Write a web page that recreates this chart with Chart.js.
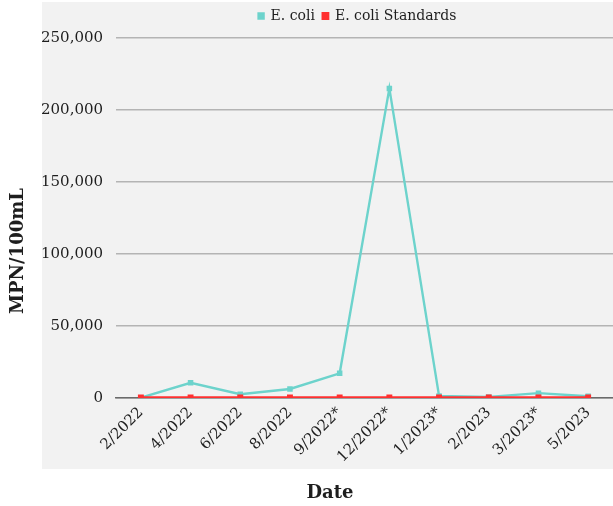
<!DOCTYPE html>
<html>
<head>
<meta charset="utf-8">
<script src="https://cdn.jsdelivr.net/npm/chart.js@4/dist/chart.umd.min.js"></script>
<style>
  html, body { margin: 0; padding: 0; background: #ffffff; }
  #wrap { width: 613px; height: 506px; position: relative; }
</style>
</head>
<body>
<div id="wrap"><canvas id="chart" width="613" height="506"></canvas></div>
<script>
// Sampling dates (asterisk marks flagged sampling events)
const sampleDates = ['2/2022', '4/2022', '6/2022', '8/2022', '9/2022*', '12/2022*', '1/2023*', '2/2023', '3/2023*', '5/2023'];
// E. coli results, MPN/100mL
const ecoliValues = [150, 10500, 2600, 6200, 17100, 215000, 1400, 700, 3300, 1200];
// Single-sample E. coli standard, MPN/100mL
const ecoliStandard = [235, 235, 235, 235, 235, 235, 235, 235, 235, 235];
// Value-axis ticks
const yTickValues = [0, 50000, 100000, 150000, 200000, 250000];
// Axis titles
const xAxisTitle = 'Date';
const yAxisTitle = 'MPN/100mL';

const FONT = "'DejaVu Serif', 'Liberation Serif', serif";
const TEXT = '#1e1e1e';

// Light grey panel behind the plot, legend and date labels
const panelBackground = {
  id: 'panelBackground',
  beforeDraw(chart) {
    const ctx = chart.ctx;
    ctx.save();
    ctx.fillStyle = '#f2f2f2';
    ctx.fillRect(42, 2, 571, 467);
    ctx.restore();
  }
};

// Legend: a little extra room below it, centred over the plotting area
const legendOverPlot = {
  id: 'legendOverPlot',
  afterInit(chart) {
    const lg = chart.legend;
    const fit = lg.fit.bind(lg);
    lg.fit = function () { fit(); this.height += 5; };
  },
  afterLayout(chart) {
    const lg = chart.legend, area = chart.chartArea;
    const shift = (area.left + area.right) / 2 - (lg.left + lg.right) / 2 - 7;
    lg.left += shift;
    lg.right += shift;
    if (lg.legendHitBoxes) lg.legendHitBoxes.forEach(b => { b.left += shift; });
  }
};

// Axis titles, centred on the grey panel
const axisTitles = {
  id: 'axisTitles',
  afterDraw(chart) {
    const ctx = chart.ctx;
    ctx.save();
    ctx.fillStyle = TEXT;
    ctx.font = "bold 18px " + FONT;
    ctx.textAlign = 'center';
    ctx.textBaseline = 'middle';
    ctx.fillText(xAxisTitle, 330, 493);
    ctx.translate(18, 251);
    ctx.rotate(-Math.PI / 2);
    ctx.fillText(yAxisTitle, 0, 0);
    ctx.restore();
  }
};

new Chart(document.getElementById('chart'), {
  type: 'line',
  data: {
    labels: sampleDates,
    datasets: [
      {
        label: 'E. coli',
        data: ecoliValues,
        borderColor: '#6dd3cc',
        backgroundColor: '#6dd3cc',
        borderWidth: 2.4,
        pointStyle: 'rect',
        pointRadius: 2.2,
        tension: 0,
        order: 2
      },
      {
        label: 'E. coli Standards',
        data: ecoliStandard,
        borderColor: '#ff3030',
        backgroundColor: '#ff3030',
        borderWidth: 2.8,
        pointStyle: 'rect',
        pointRadius: 2.2,
        tension: 0,
        order: 1
      }
    ]
  },
  options: {
    responsive: false,
    animation: false,
    devicePixelRatio: 1,
    layout: { autoPadding: false, padding: { top: 1, right: 0, bottom: 34, left: 28 } },
    plugins: {
      tooltip: { enabled: false },
      legend: {
        position: 'top',
        labels: {
          font: { family: FONT, size: 14 },
          color: TEXT,
          boxWidth: 5,
          boxHeight: 5,
          padding: 8,
          sort: (a, b) => a.datasetIndex - b.datasetIndex
        }
      }
    },
    scales: {
      x: {
        offset: true,
        afterFit(scale) { scale.paddingRight = 0; },
        grid: { display: false, drawTicks: false },
        border: { display: true, color: '#6b6b6b', width: 1.5 },
        ticks: {
          font: { family: FONT, size: 15 },
          color: TEXT,
          minRotation: 45,
          maxRotation: 45,
          padding: 6
        }
      },
      y: {
        min: 0,
        max: 250000,
        afterBuildTicks(scale) { scale.ticks = yTickValues.map(v => ({ value: v })); },
        grid: { color: '#b4b4b4', lineWidth: 1.5, drawTicks: false },
        border: { display: false },
        ticks: {
          font: { family: FONT, size: 15 },
          color: TEXT,
          padding: 13,
          callback: v => v.toLocaleString('en-US')
        }
      }
    }
  },
  plugins: [panelBackground, legendOverPlot, axisTitles]
});
</script>
</body>
</html>
